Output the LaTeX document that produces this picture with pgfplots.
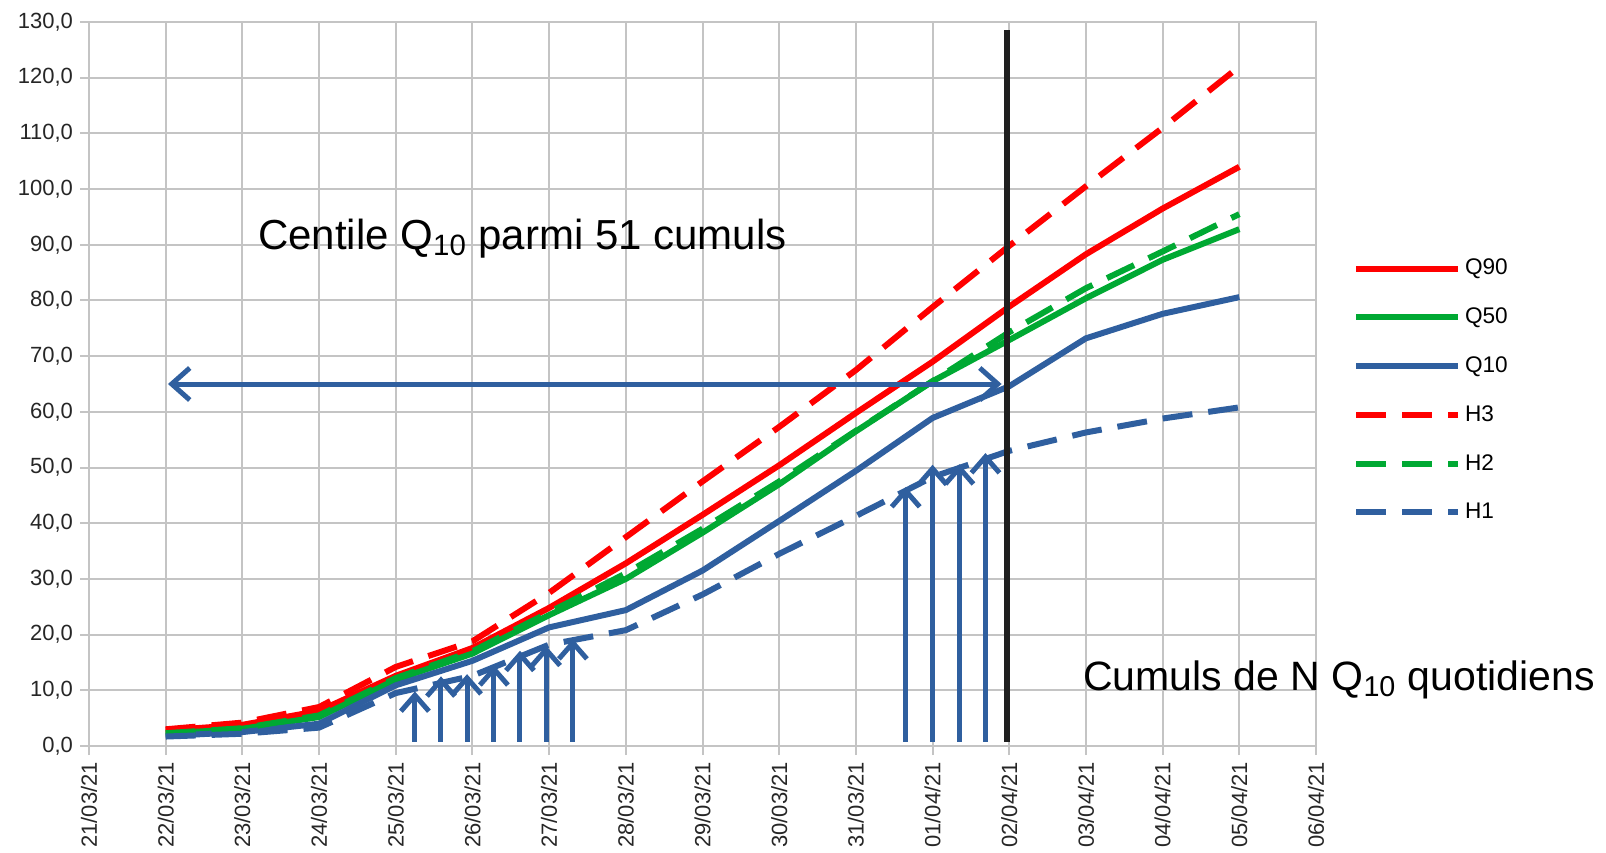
\documentclass[border=0pt]{standalone}
\usepackage{pgfplots}
\pgfplotsset{compat=1.18}
\usepackage{fontspec}
\setmainfont{Liberation Sans}
\usetikzlibrary{arrows.meta}
\definecolor{cred}{HTML}{FF0000}
\definecolor{cgreen}{HTML}{00A933}
\definecolor{cblue}{HTML}{2F5F9F}
\definecolor{gridgray}{HTML}{C4C4C4}
\begin{document}
\begin{tikzpicture}
\path[use as bounding box] (0,0) rectangle (803pt,426pt);
\begin{axis}[
  at={(44.5pt,53pt)}, anchor=south west,
  scale only axis, width=613.5pt, height=362pt,
  xmin=0, xmax=16, ymin=0, ymax=130,
  clip=false,
  xtick={0,...,16},
  xticklabels={21/03/21,22/03/21,23/03/21,24/03/21,25/03/21,26/03/21,27/03/21,28/03/21,29/03/21,30/03/21,31/03/21,01/04/21,02/04/21,03/04/21,04/04/21,05/04/21,06/04/21},
  ytick={0,10,...,130},
  xtick pos=lower, ytick pos=left,
  grid=major,
  grid style={gridgray, line width=1pt},
  axis line style={gridgray, line width=1pt},
  tick style={gridgray, line width=1pt},
  tick align=outside, major tick length=4.5pt,
  /pgf/number format/assume math mode=true,
  tick label style={font=\fontsize{11}{13}\selectfont, text=black!85},
  x tick label style={rotate=90, anchor=east},
  y tick label style={/pgf/number format/fixed, /pgf/number format/fixed zerofill, /pgf/number format/precision=1, /pgf/number format/use comma},
  legend cell align=left,
  legend style={draw=none, fill=none, at={(1.025,0.684)}, anchor=north west, font=\fontsize{11.3}{13}\selectfont, row sep=11.0pt},
  legend image code/.code={\draw[#1] (0pt,0pt) -- (51pt,0pt);},
  every axis plot/.append style={line join=round},
]
\addplot[cred, line width=3pt] coordinates {(1,2.8)(2,3.8)(3,6.3)(4,12.6)(5,17.6)(6,24.8)(7,32.8)(8,41.5)(9,50.4)(10,59.8)(11,69.0)(12,78.9)(13,88.3)(14,96.5)(15,104.0)};
\addlegendentry{Q90}
\addplot[cgreen, line width=3pt] coordinates {(1,2.2)(2,3.1)(3,5.2)(4,11.9)(5,16.6)(6,23.5)(7,30.0)(8,38.3)(9,47.0)(10,56.5)(11,65.5)(12,72.9)(13,80.4)(14,87.3)(15,92.8)};
\addlegendentry{Q50}
\addplot[cblue, line width=3pt] coordinates {(1,1.8)(2,2.5)(3,4.0)(4,10.9)(5,15.3)(6,21.3)(7,24.4)(8,31.5)(9,40.4)(10,49.4)(11,58.9)(12,64.6)(13,73.2)(14,77.6)(15,80.6)};
\addlegendentry{Q10}
\addplot[cred, line width=3pt, dash pattern=on 15pt off 8pt] coordinates {(1,3.0)(2,4.2)(3,7.0)(4,14.2)(5,18.8)(6,27.5)(7,37.5)(8,47.5)(9,57.3)(10,67.5)(11,78.8)(12,89.8)(13,100.5)(14,111.0)(15,122.0)};
\addlegendentry{H3}
\addplot[cgreen, line width=3pt, dash pattern=on 15pt off 8pt] coordinates {(1,2.3)(2,3.2)(3,5.5)(4,12.2)(5,17.0)(6,24.0)(7,31.0)(8,39.0)(9,47.5)(10,56.6)(11,65.5)(12,74.3)(13,82.2)(14,88.8)(15,95.5)};
\addlegendentry{H2}
\addplot[cblue, line width=3pt, dash pattern=on 15pt off 8pt] coordinates {(1,1.7)(2,2.2)(3,3.3)(4,9.5)(5,12.6)(6,18.2)(7,20.8)(8,27.2)(9,34.5)(10,41.3)(11,48.3)(12,53.0)(13,56.3)(14,58.8)(15,60.8)};
\addlegendentry{H1}
% annotations
\addplot[black!88, line width=3pt, forget plot] coordinates {(11.97,0.8)(11.97,128.6)};
\addplot[cblue, line width=2.5pt, {Straight Barb[length=9pt,width=16pt]}-{Straight Barb[length=9pt,width=16pt]}, forget plot] coordinates {(1.03,65)(11.9,65)};
\addplot[cblue, line width=2.5pt, -{Straight Barb[length=8pt,width=14pt]}, forget plot] coordinates {(4.25,0.8)(4.25,9.8)};
\addplot[cblue, line width=2.5pt, -{Straight Barb[length=8pt,width=14pt]}, forget plot] coordinates {(4.59,0.8)(4.59,12.5)};
\addplot[cblue, line width=2.5pt, -{Straight Barb[length=8pt,width=14pt]}, forget plot] coordinates {(4.93,0.8)(4.93,12.9)};
\addplot[cblue, line width=2.5pt, -{Straight Barb[length=8pt,width=14pt]}, forget plot] coordinates {(5.28,0.8)(5.28,14.5)};
\addplot[cblue, line width=2.5pt, -{Straight Barb[length=8pt,width=14pt]}, forget plot] coordinates {(5.62,0.8)(5.62,17.1)};
\addplot[cblue, line width=2.5pt, -{Straight Barb[length=8pt,width=14pt]}, forget plot] coordinates {(5.96,0.8)(5.96,18.0)};
\addplot[cblue, line width=2.5pt, -{Straight Barb[length=8pt,width=14pt]}, forget plot] coordinates {(6.31,0.8)(6.31,19.2)};
\addplot[cblue, line width=2.5pt, -{Straight Barb[length=8pt,width=14pt]}, forget plot] coordinates {(10.65,0.8)(10.65,46.5)};
\addplot[cblue, line width=2.5pt, -{Straight Barb[length=8pt,width=14pt]}, forget plot] coordinates {(11.0,0.8)(11.0,50.5)};
\addplot[cblue, line width=2.5pt, -{Straight Barb[length=8pt,width=14pt]}, forget plot] coordinates {(11.35,0.8)(11.35,50.6)};
\addplot[cblue, line width=2.5pt, -{Straight Barb[length=8pt,width=14pt]}, forget plot] coordinates {(11.69,0.8)(11.69,52.6)};
\node[anchor=base west, font=\fontsize{21}{25}\selectfont, inner sep=0pt] at (axis cs:2.2,89.2) {Centile Q\textsubscript{10} parmi 51 cumuls};
\node[anchor=base west, font=\fontsize{20.5}{25}\selectfont, inner sep=0pt] at (axis cs:12.96,10.05) {Cumuls de N Q\textsubscript{10} quotidiens};
\end{axis}
\end{tikzpicture}
\end{document}
